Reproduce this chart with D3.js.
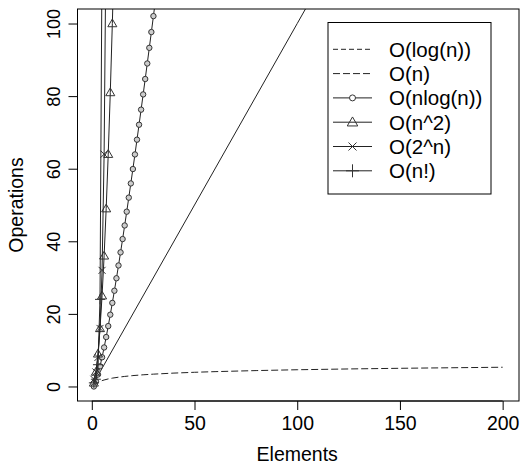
<!DOCTYPE html>
<html>
<head>
<meta charset="utf-8">
<script src="https://cdn.jsdelivr.net/npm/d3@7"></script>
<style>
  body { margin: 0; background: #fff; }
  text { font-family: "Liberation Sans", Arial, sans-serif; fill: #000; }
</style>
</head>
<body>
<div id="chart"></div>
<script>
// Series values (n, operations)
const logN = [1, 2, 3, 4, 5, 6, 8, 10, 13, 16, 20, 25, 30, 40, 50, 60, 80, 100, 125, 150, 175, 200];
const logOps = [0, 0.69, 1.10, 1.39, 1.61, 1.79, 2.08, 2.30, 2.56, 2.77, 3.00, 3.22, 3.40, 3.69, 3.91, 4.09, 4.38, 4.61, 4.83, 5.01, 5.16, 5.30];

const linN = [1, 50, 100, 110];
const linOps = [1, 50, 100, 110];

const nlogN = d3.range(1, 32);
const nlogOps = [0, 1.39, 3.30, 5.55, 8.05, 10.75, 13.62, 16.64, 19.78, 23.03, 26.38, 29.82, 33.34, 36.95, 40.62,
                 44.36, 48.16, 52.03, 55.94, 59.91, 63.93, 68.00, 72.12, 76.27, 80.47, 84.71, 88.99, 93.30, 97.65, 102.04, 106.45];

const sqN = [1, 2, 3, 4, 5, 6, 7, 8, 9, 10, 11];
const sqOps = [1, 4, 9, 16, 25, 36, 49, 64, 81, 100, 121];

const expN = [1, 2, 3, 4, 5, 6, 7];
const expOps = [2, 4, 8, 16, 32, 64, 128];

const factN = [1, 2, 3, 4, 5];
const factOps = [1, 2, 6, 24, 120];

const xTicks = [0, 50, 100, 150, 200];
const yTicks = [0, 20, 40, 60, 80, 100];

const seriesNames = ["O(log(n))", "O(n)", "O(nlog(n))", "O(n^2)", "O(2^n)", "O(n!)"];

const width = 520, height = 465;
const box = { left: 77.5, right: 519, top: 9, bottom: 401 };

const svg = d3.select("#chart").append("svg")
    .attr("width", width)
    .attr("height", height);

// R style 4% range extension
const x = d3.scaleLinear().domain([-6.96, 207.96]).range([box.left, box.right]);
const y = d3.scaleLinear().domain([-4, 104]).range([box.bottom, box.top]);

svg.append("clipPath").attr("id", "plotclip")
    .append("rect")
    .attr("x", box.left).attr("y", box.top)
    .attr("width", box.right - box.left).attr("height", box.bottom - box.top);

const plot = svg.append("g").attr("clip-path", "url(#plotclip)");

const lineColor = "#222";

// marker path builders
function marker(type, s) {
    const p = d3.path();
    if (type === "circle") {
        p.moveTo(s, 0); p.arc(0, 0, s, 0, 2 * Math.PI);
    } else if (type === "triangle") {
        p.moveTo(0, -s * 1.05); p.lineTo(s * 1.05, s * 0.75); p.lineTo(-s * 1.05, s * 0.75); p.closePath();
    } else if (type === "cross") {
        p.moveTo(-s, -s); p.lineTo(s, s); p.moveTo(-s, s); p.lineTo(s, -s);
    } else if (type === "plus") {
        p.moveTo(-s, 0); p.lineTo(s, 0); p.moveTo(0, -s); p.lineTo(0, s);
    }
    return p.toString();
}

const series = [
    { name: seriesNames[0], n: logN, v: logOps, dash: "7,3", legendDash: "5,3", mark: null },
    { name: seriesNames[1], n: linN, v: linOps, dash: null, legendDash: "7,3", mark: null },
    { name: seriesNames[2], n: nlogN, v: nlogOps, dash: null, mark: "circle", size: 2.7, legendSize: 3 },
    { name: seriesNames[3], n: sqN, v: sqOps, dash: null, mark: "triangle", size: 4.3, legendSize: 5 },
    { name: seriesNames[4], n: expN, v: expOps, dash: null, mark: "cross", size: 3.5, legendSize: 4 },
    { name: seriesNames[5], n: factN, v: factOps, dash: null, mark: "plus", size: 5, legendSize: 6.5 }
];

const line = d3.line().x((d) => x(d[0])).y((d) => y(d[1]));

series.forEach((s) => {
    const pts = s.n.map((n, i) => [n, s.v[i]]);
    plot.append("path")
        .attr("d", line(pts))
        .attr("fill", "none")
        .attr("stroke", lineColor)
        .attr("stroke-width", 1)
        .attr("stroke-dasharray", s.dash);
    if (s.mark) {
        plot.selectAll(null)
            .data(pts)
            .enter()
            .append("path")
            .attr("transform", (d) => `translate(${x(d[0])},${y(d[1])})`)
            .attr("d", marker(s.mark, s.size))
            .attr("fill", s.mark === "circle" ? "#ccc" : "none")
            .attr("stroke", "#333")
            .attr("stroke-width", 1);
    }
});

// box
svg.append("rect")
    .attr("x", box.left).attr("y", box.top)
    .attr("width", box.right - box.left).attr("height", box.bottom - box.top)
    .attr("fill", "none").attr("stroke", "#000").attr("stroke-width", 1);

// x axis
const xAxis = svg.append("g")
    .attr("transform", `translate(0,${box.bottom})`)
    .call(d3.axisBottom(x).tickValues(xTicks).tickSize(9).tickPadding(6).tickFormat(d3.format("d")));
xAxis.select(".domain").attr("d", `M${x(0)},0H${x(200)}`);
xAxis.selectAll("text").style("font-size", "19.5px").attr("fill", "#000");

// y axis with rotated labels
const yAxis = svg.append("g")
    .attr("transform", `translate(${box.left},0)`)
    .call(d3.axisLeft(y).tickValues(yTicks).tickSize(9).tickFormat(d3.format("d")));
yAxis.select(".domain").attr("d", `M0,${y(0)}V${y(100)}`);
yAxis.selectAll("text")
    .attr("x", null).attr("dy", null)
    .attr("transform", "translate(-17.5,0) rotate(-90)")
    .attr("text-anchor", "middle")
    .style("font-size", "18px")
    .attr("fill", "#000");

// axis titles
svg.append("text")
    .attr("x", x(100))
    .attr("y", 461)
    .attr("text-anchor", "middle")
    .style("font-size", "19.5px")
    .text("Elements");

svg.append("text")
    .attr("transform", `translate(23,${(box.top + box.bottom) / 2}) rotate(-90)`)
    .attr("text-anchor", "middle")
    .style("font-size", "19.5px")
    .text("Operations");

// legend
const legend = svg.append("g");
legend.append("rect")
    .attr("x", 328).attr("y", 22.5)
    .attr("width", 163).attr("height", 171.5)
    .attr("fill", "#fff").attr("stroke", "#000").attr("stroke-width", 1);

series.forEach((s, i) => {
    const ly = 49.3 + i * 24.3;
    legend.append("line")
        .attr("x1", 333).attr("x2", 372)
        .attr("y1", ly).attr("y2", ly)
        .attr("stroke", lineColor)
        .attr("stroke-width", 1)
        .attr("stroke-dasharray", s.legendDash || null);
    if (s.mark) {
        legend.append("path")
            .attr("transform", `translate(352.5,${ly})`)
            .attr("d", marker(s.mark, s.legendSize))
            .attr("fill", s.mark === "circle" ? "#fff" : "none")
            .attr("stroke", "#333")
            .attr("stroke-width", 1);
    }
    legend.append("text")
        .attr("x", 389)
        .attr("y", ly)
        .attr("dy", "0.36em")
        .style("font-size", "20.5px")
        .text(s.name);
});
</script>
</body>
</html>
